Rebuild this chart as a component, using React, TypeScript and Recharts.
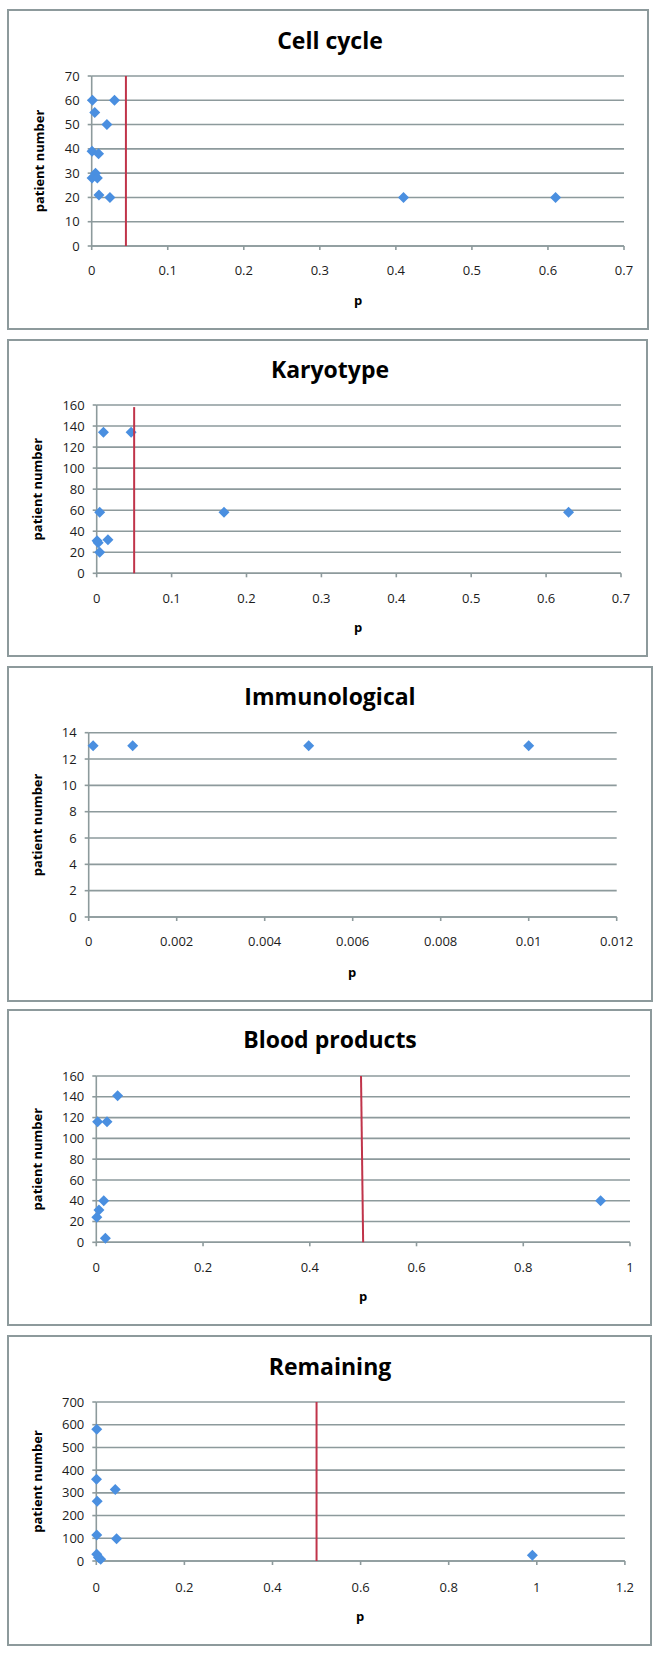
import React from "react";
import { ScatterChart, Scatter, XAxis, YAxis, CartesianGrid } from "recharts";

// Cell cycle
const cellCycleP = [0.001, 0.03, 0.004, 0.02, 0.0005, 0.009, 0.005, 0.0005, 0.0075, 0.0095, 0.024, 0.41, 0.61];
const cellCycleN = [60, 60, 55, 50, 39, 38, 30, 28, 28, 21, 20, 20, 20];
const cellCycleCutP = [0.045, 0.045];
const cellCycleCutN = [0, 70];
const cellCycleXTicks = [0, 0.1, 0.2, 0.3, 0.4, 0.5, 0.6, 0.7];
const cellCycleYTicks = [0, 10, 20, 30, 40, 50, 60, 70];

// Karyotype
const karyotypeP = [0.009, 0.046, 0.004, 0.17, 0.63, 0.0005, 0.002, 0.015, 0.004];
const karyotypeN = [134, 134, 58, 58, 58, 31, 29, 32, 20];
const karyotypeCutP = [0.05, 0.05];
const karyotypeCutN = [0, 158];
const karyotypeXTicks = [0, 0.1, 0.2, 0.3, 0.4, 0.5, 0.6, 0.7];
const karyotypeYTicks = [0, 20, 40, 60, 80, 100, 120, 140, 160];

// Immunological
const immunoP = [0.0001, 0.001, 0.005, 0.01];
const immunoN = [13, 13, 13, 13];
const immunoXTicks = [0, 0.002, 0.004, 0.006, 0.008, 0.01, 0.012];
const immunoYTicks = [0, 2, 4, 6, 8, 10, 12, 14];

// Blood products
const bloodP = [0.04, 0.0025, 0.02, 0.014, 0.945, 0.005, 0.001, 0.017];
const bloodN = [141, 116, 116, 40, 40, 31, 24, 4];
const bloodCutP = [0.5, 0.496];
const bloodCutN = [0, 160];
const bloodXTicks = [0, 0.2, 0.4, 0.6, 0.8, 1];
const bloodYTicks = [0, 20, 40, 60, 80, 100, 120, 140, 160];

// Remaining
const remainingP = [0.001, 0.0005, 0.043, 0.002, 0.001, 0.046, 0.001, 0.005, 0.01, 0.99];
const remainingN = [580, 360, 315, 263, 115, 98, 30, 15, 8, 25];
const remainingCutP = [0.5, 0.5];
const remainingCutN = [0, 700];
const remainingXTicks = [0, 0.2, 0.4, 0.6, 0.8, 1, 1.2];
const remainingYTicks = [0, 100, 200, 300, 400, 500, 600, 700];

const FONT = '"Open Sans", sans-serif';
const GRID = "#8d9a9c";
const BLUE = "#4a8fe0";
const RED = "#c0344a";
const TEXT = "#1c1c1c";

const toPoints = (p: number[], n: number[]) => p.map((v, i) => ({ p: v, n: n[i] }));

function Diamond(props: any) {
  const { cx, cy } = props;
  if (cx == null || cy == null) return <g />;
  const r = 5.5;
  return <path d={`M${cx},${cy - r}L${cx + r},${cy}L${cx},${cy + r}L${cx - r},${cy}Z`} fill={BLUE} />;
}

const Nothing = () => <g />;

type PanelCfg = {
  title: string;
  box: { left: number; top: number; width: number; height: number };
  plot: { left: number; right: number; top: number; bottom: number };
  points: { p: number; n: number }[];
  cut?: { p: number; n: number }[];
  xTicks: number[];
  yTicks: number[];
  titleY: number;
  pX: number;
  pY: number;
  yLabelX: number;
  tickGap: number;
};

const Y_W = 60;
const X_H = 40;

function Panel({ cfg }: { cfg: PanelCfg }) {
  const { box, plot } = cfg;
  const top = box.top;
  const margin = {
    top: plot.top - top,
    left: plot.left - Y_W,
    right: 662 - plot.right,
    bottom: box.height - (plot.bottom - top) - X_H,
  };
  const xMax = cfg.xTicks[cfg.xTicks.length - 1];
  const yMax = cfg.yTicks[cfg.yTicks.length - 1];
  const tick = { fill: TEXT, fontSize: 13, fontFamily: FONT };
  return (
    <div style={{ position: "absolute", left: 0, top, width: 662, height: box.height }}>
      <div
        style={{
          position: "absolute",
          left: box.left - 1,
          top: -1,
          width: box.width + 2,
          height: box.height + 2,
          border: `2px solid ${GRID}`,
          boxSizing: "border-box",
          background: "#fff",
        }}
      />
      <div style={{ position: "absolute", left: 0, top: 0 }}>
        <ScatterChart width={662} height={box.height} margin={margin}>
          <CartesianGrid vertical={false} stroke={GRID} strokeWidth={1.6} />
          <XAxis
            type="number"
            dataKey="p"
            domain={[0, xMax]}
            ticks={cfg.xTicks}
            interval={0}
            height={X_H}
            tick={tick}
            tickSize={4}
            tickMargin={cfg.tickGap}
            axisLine={{ stroke: GRID, strokeWidth: 1.6 }}
            tickLine={{ stroke: GRID, strokeWidth: 1.6 }}
            tickFormatter={(v: number) => String(v)}
          />
          <YAxis
            type="number"
            dataKey="n"
            domain={[0, yMax]}
            ticks={cfg.yTicks}
            interval={0}
            width={Y_W}
            tick={tick}
            tickSize={4}
            tickMargin={8}
            axisLine={{ stroke: GRID, strokeWidth: 1.6 }}
            tickLine={{ stroke: GRID, strokeWidth: 1.6 }}
          />
          <Scatter data={cfg.points} shape={Diamond} isAnimationActive={false} />
          {cfg.cut && (
            <Scatter
              data={cfg.cut}
              shape={Nothing}
              line={{ stroke: RED, strokeWidth: 2 }}
              lineType="joint"
              isAnimationActive={false}
            />
          )}
        </ScatterChart>
      </div>
      <svg
        width={662}
        height={box.height}
        style={{ position: "absolute", left: 0, top: 0, pointerEvents: "none" }}
      >
        <text
          x={330}
          y={cfg.titleY - top + 8.2}
          textAnchor="middle"
          fontFamily={FONT}
          fontWeight="bold"
          fontSize={23}
          fill="#000"
        >
          {cfg.title}
        </text>
        <text
          x={cfg.pX}
          y={cfg.pY - top}
          textAnchor="middle"
          fontFamily={FONT}
          fontWeight="bold"
          fontSize={13}
          fill="#000"
        >
          p
        </text>
        <text
          x={cfg.yLabelX}
          y={(plot.top + plot.bottom) / 2 - top}
          transform={`rotate(-90 ${cfg.yLabelX} ${(plot.top + plot.bottom) / 2 - top})`}
          textAnchor="middle"
          fontFamily={FONT}
          fontWeight="bold"
          fontSize={13}
          fill="#000"
        >
          patient number
        </text>
      </svg>
    </div>
  );
}

const panels: PanelCfg[] = [
  {
    title: "Cell cycle",
    box: { left: 8, top: 10, width: 640, height: 319 },
    plot: { left: 91.7, right: 624, top: 76, bottom: 246 },
    points: toPoints(cellCycleP, cellCycleN),
    cut: toPoints(cellCycleCutP, cellCycleCutN),
    xTicks: cellCycleXTicks,
    yTicks: cellCycleYTicks,
    titleY: 41,
    pX: 358,
    pY: 305,
    yLabelX: 43.5,
    tickGap: 16,
  },
  {
    title: "Karyotype",
    box: { left: 8, top: 340, width: 639, height: 316 },
    plot: { left: 96.7, right: 621, top: 405, bottom: 573.3 },
    points: toPoints(karyotypeP, karyotypeN),
    cut: toPoints(karyotypeCutP, karyotypeCutN),
    xTicks: karyotypeXTicks,
    yTicks: karyotypeYTicks,
    titleY: 370,
    pX: 358,
    pY: 632,
    yLabelX: 42,
    tickGap: 16,
  },
  {
    title: "Immunological",
    box: { left: 8, top: 667, width: 644, height: 334 },
    plot: { left: 88.7, right: 616.7, top: 732.7, bottom: 917 },
    points: toPoints(immunoP, immunoN),
    xTicks: immunoXTicks,
    yTicks: immunoYTicks,
    titleY: 697,
    pX: 352,
    pY: 977,
    yLabelX: 42,
    tickGap: 16,
  },
  {
    title: "Blood products",
    box: { left: 8, top: 1010, width: 643, height: 315 },
    plot: { left: 96.3, right: 630, top: 1076, bottom: 1242.3 },
    points: toPoints(bloodP, bloodN),
    cut: toPoints(bloodCutP, bloodCutN),
    xTicks: bloodXTicks,
    yTicks: bloodYTicks,
    titleY: 1040,
    pX: 363,
    pY: 1301,
    yLabelX: 42,
    tickGap: 16,
  },
  {
    title: "Remaining",
    box: { left: 8, top: 1336, width: 643, height: 309 },
    plot: { left: 96.3, right: 624.9, top: 1402, bottom: 1561 },
    points: toPoints(remainingP, remainingN),
    cut: toPoints(remainingCutP, remainingCutN),
    xTicks: remainingXTicks,
    yTicks: remainingYTicks,
    titleY: 1367,
    pX: 360,
    pY: 1621,
    yLabelX: 42,
    tickGap: 18,
  },
];

export default function App() {
  return (
    <div style={{ position: "absolute", left: 0, top: 0, width: 662, height: 1660, background: "#fff" }}>
      {panels.map((cfg) => (
        <Panel key={cfg.title} cfg={cfg} />
      ))}
    </div>
  );
}
